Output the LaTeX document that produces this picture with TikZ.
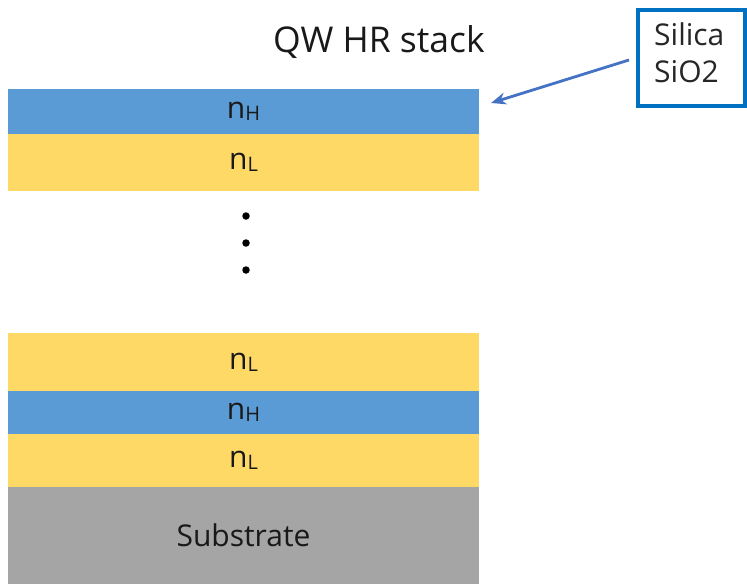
\documentclass[tikz,border=0pt]{standalone}
\usepackage{fontspec}
\setmainfont{Open Sans}
\usetikzlibrary{arrows.meta}
\definecolor{hblue}{HTML}{5B9BD5}
\definecolor{lyellow}{HTML}{FFD966}
\definecolor{subgray}{HTML}{A5A5A5}
\definecolor{boxblue}{HTML}{0070C0}
\definecolor{arrblue}{HTML}{4472C4}
\tikzset{
  layer/.style={rectangle, inner sep=0pt, outer sep=0pt, minimum width=471pt, anchor=north west},
  hlayer/.style={layer, fill=hblue},
  llayer/.style={layer, fill=lyellow},
  nlab/.style={font=\fontsize{30}{30}\selectfont, text=black!90},
  dotmark/.style={circle, fill=black, inner sep=0pt, minimum size=7.5pt},
}
\newcommand{\nsub}[1]{n\raisebox{-2pt}{\fontsize{20}{20}\selectfont #1}}
\begin{document}
\begin{tikzpicture}[x=1pt,y=-1pt]
\useasboundingbox (0,0) rectangle (747,584);
\node[hlayer, minimum height=45pt] (h1) at (8,89) {};
\node[llayer, minimum height=57pt] (l1) at (8,134) {};
\node[llayer, minimum height=58pt] (l2) at (8,333) {};
\node[hlayer, minimum height=43pt] (h2) at (8,391) {};
\node[llayer, minimum height=53pt] (l3) at (8,434) {};
\node[layer, fill=subgray, minimum height=97pt] (sub) at (8,487) {};
\node[nlab] at (h1.center) {\nsub{H}};
\node[nlab] at (l1.center) {\nsub{L}};
\node[nlab] at (l2.center) {\nsub{L}};
\node[nlab] at (h2.center) {\nsub{H}};
\node[nlab] at (l3.center) {\nsub{L}};
\node[font=\fontsize{30}{30}\selectfont, text=black!90] (subl) at (sub.center) {Substrate};
\node[dotmark] (d1) at (246,216) {};
\node[dotmark] (d2) at (246,243) {};
\node[dotmark] (d3) at (246,270) {};
\node[font=\fontsize{35.5}{35.5}\selectfont, anchor=base west, inner sep=0pt, text=black!90] (title) at (273,52) {QW HR stack};
\draw[boxblue, line width=4pt] (638,10) rectangle (745,106);
\node[font=\fontsize{30}{37}\selectfont, align=left, anchor=north west, inner sep=0pt, text=black!85] (silica) at (654,23) {Silica\\SiO2};
\coordinate (tip) at (491,103);
\draw[arrblue, line width=2.8pt, -{Stealth[length=15pt,width=12pt]}] (629,60) -- (tip);
\end{tikzpicture}
\end{document}
